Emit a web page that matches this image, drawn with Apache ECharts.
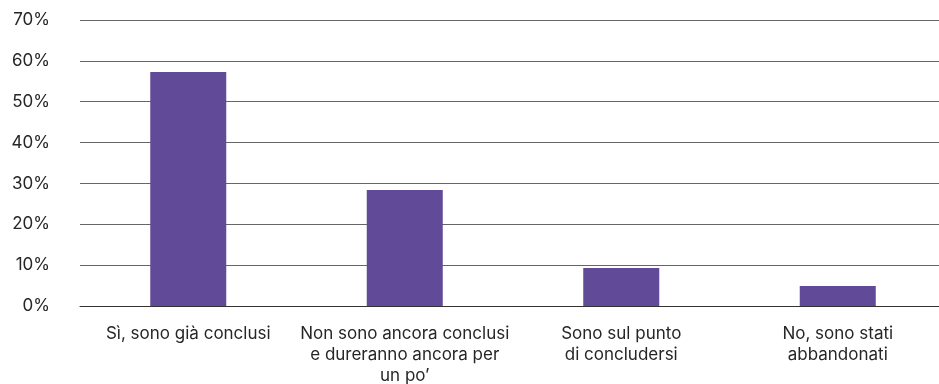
<!DOCTYPE html>
<html><head><meta charset="utf-8">
<script src="https://cdn.jsdelivr.net/npm/echarts@6/dist/echarts.min.js"></script>
<style>html,body{margin:0;padding:0;background:#fff}#c{width:939px;height:384px}</style>
</head><body><div id="c"></div>
<script>
const categories = ["Sì, sono già conclusi", "Non sono ancora conclusi\ne dureranno ancora per\nun po’", "Sono sul punto\ndi concludersi", "No, sono stati\nabbandonati"];
const values = [57.3, 28.4, 9.3, 4.9];
const yTicks = [0, 10, 20, 30, 40, 50, 60, 70];

const chart = echarts.init(document.getElementById('c'), null, {renderer: 'canvas'});
chart.setOption({
  animation: false,
  grid: {left: 80, width: 866, top: 20, bottom: 78, outerBoundsMode: 'none', containLabel: false},
  xAxis: {
    type: 'category', data: categories,
    axisLine: {lineStyle: {color: '#333', width: 1}},
    axisTick: {show: false},
    axisLabel: {color: '#262626', fontFamily: 'Inter', fontSize: 17, lineHeight: 21, margin: 17, interval: 0}
  },
  yAxis: {
    type: 'value', min: yTicks[0], max: yTicks[yTicks.length - 1], interval: 10,
    axisLine: {show: false}, axisTick: {show: false},
    axisLabel: {color: '#262626', fontFamily: 'Inter', fontSize: 17, margin: 30, formatter: v => v + '%'},
    splitLine: {lineStyle: {color: '#666', width: 1}}
  },
  series: [{
    type: 'bar', data: values, barWidth: 76,
    itemStyle: {color: '#614A97'}
  }]
});
</script></body></html>
